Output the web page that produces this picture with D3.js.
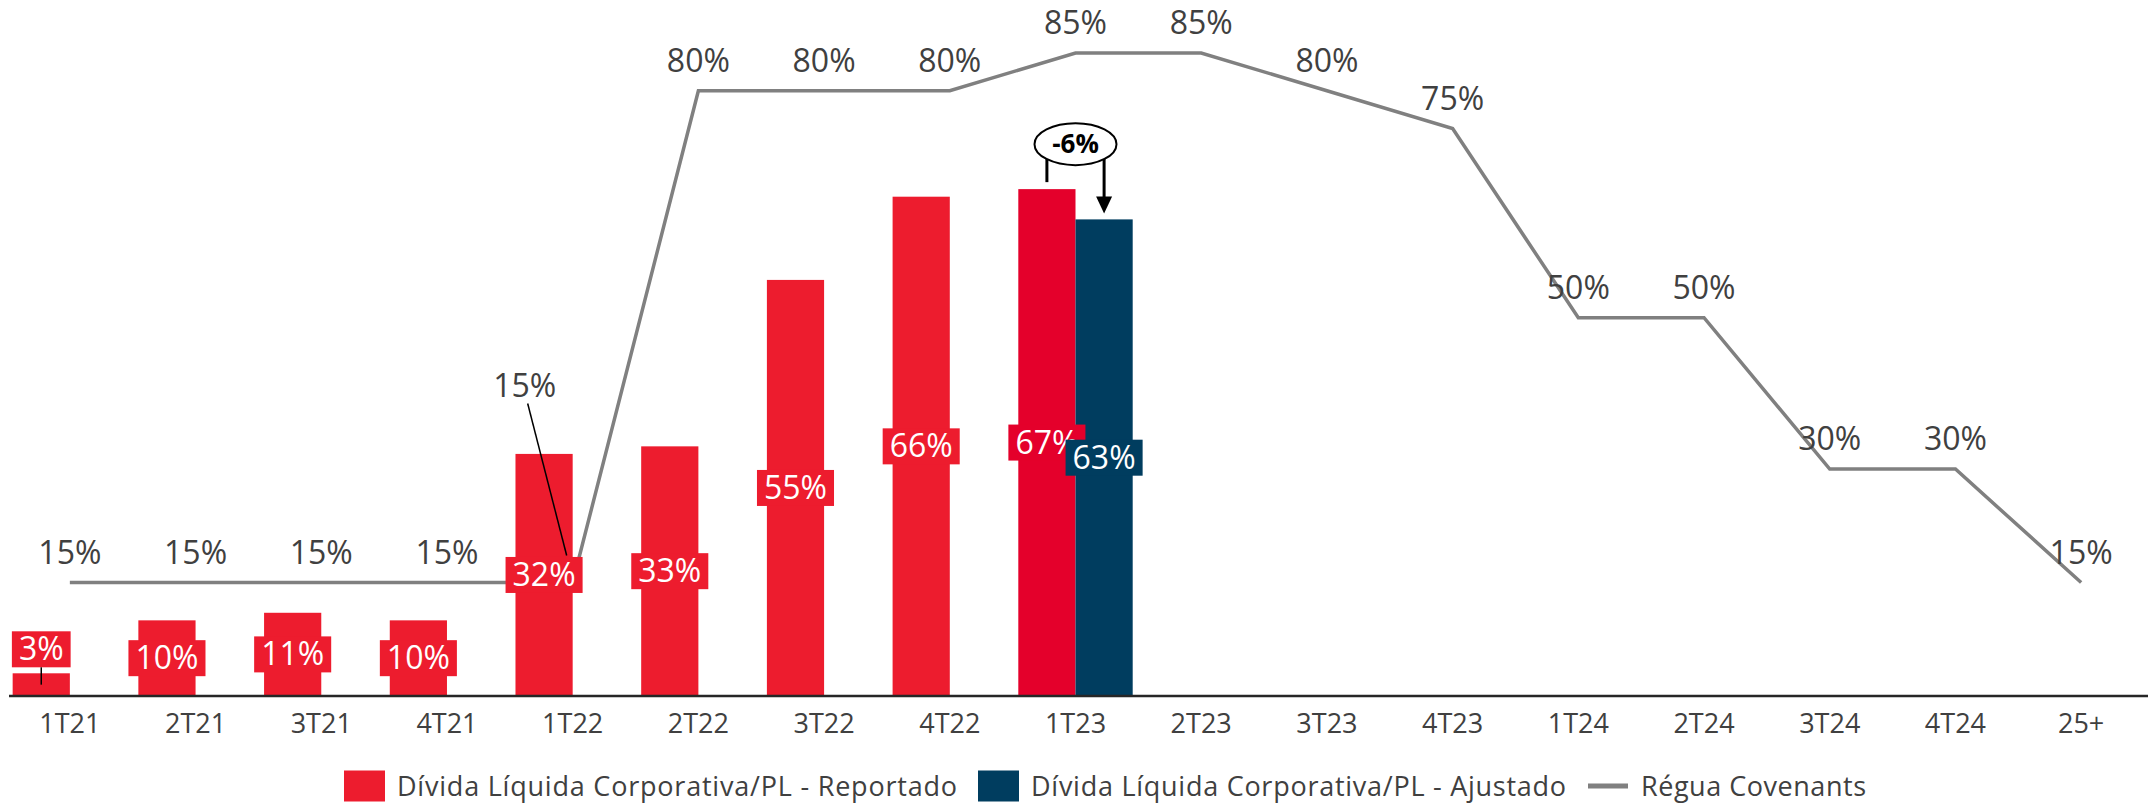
<!DOCTYPE html>
<html>
<head>
<meta charset="utf-8">
<script src="https://cdn.jsdelivr.net/npm/d3@7"></script>
<style>
  body { margin: 0; background: #fff; }
  text { font-family: "Open Sans", Lato, sans-serif; }
</style>
</head>
<body>
<script>
const width = 2148,
      height = 807;

// data
const categories = ['1T21', '2T21', '3T21', '4T21', '1T22', '2T22', '3T22', '4T22', '1T23',
                    '2T23', '3T23', '4T23', '1T24', '2T24', '3T24', '4T24', '25+'];
const reportadoCats = ['1T21', '2T21', '3T21', '4T21', '1T22', '2T22', '3T22', '4T22', '1T23'];
const reportado = [3, 10, 11, 10, 32, 33, 55, 66, 67];
const ajustadoCats = ['1T23'];
const ajustado = [63];
const regua = [15, 15, 15, 15, 15, 80, 80, 80, 85, 85, 80, 75, 50, 50, 30, 30, 15];
const variacao = '-6%';

const legendItems = ['Dívida Líquida Corporativa/PL - Reportado',
                     'Dívida Líquida Corporativa/PL - Ajustado',
                     'Régua Covenants'];

const red = '#ED1C2E', red2 = '#E4002B', blue = '#003D5F', grey = '#808080', txt = '#404040';

const svg = d3.select('body').append('svg')
    .attr('width', width)
    .attr('height', height);

const x = d3.scaleBand()
    .domain(categories)
    .range([7, 2144])
    .padding(0);

const y = d3.scaleLinear()
    .domain([0, 92])
    .range([696, 0]);

const barW = x.bandwidth() * 0.455;
const cx = d => x(d) + x.bandwidth() / 2;

// bars
const repData = reportadoCats.map((c, i) => ({cat: c, v: reportado[i]}));
const ajuData = ajustadoCats.map((c, i) => ({cat: c, v: ajustado[i]}));

const bars = svg.append('g');
bars.selectAll('rect.rep')
  .data(repData)
  .enter()
  .append('rect')
    .attr('class', 'rep')
    .attr('x', d => cx(d.cat) - barW)
    .attr('y', d => y(d.v))
    .attr('width', barW)
    .attr('height', d => y(0) - y(d.v))
    .attr('fill', d => d.cat == '1T23' ? red2 : red);

bars.selectAll('rect.aju')
  .data(ajuData)
  .enter()
  .append('rect')
    .attr('class', 'aju')
    .attr('x', d => cx(d.cat))
    .attr('y', d => y(d.v))
    .attr('width', barW)
    .attr('height', d => y(0) - y(d.v))
    .attr('fill', blue);

// x axis
const xAxis = svg.append('g')
    .attr('transform', 'translate(0,' + y(0) + ')')
    .call(d3.axisBottom(x).tickSize(0).tickPadding(18));
xAxis.select('.domain')
    .attr('d', 'M9,0H2148')
    .attr('stroke', '#262626')
    .attr('stroke-width', 2.5);
xAxis.selectAll('text')
    .attr('fill', txt)
    .style('font-size', '27px')
    .style('font-family', '"Open Sans", sans-serif');

// covenant line
const line = d3.line()
    .x((d, i) => cx(categories[i]))
    .y(d => y(d));

svg.append('path')
    .datum(regua)
    .attr('d', line)
    .attr('fill', 'none')
    .attr('stroke', grey)
    .attr('stroke-width', 3.5)
    .attr('stroke-linejoin', 'miter');

// line labels
const calloutIdx = 4, calloutDx = -48, calloutDy = -167;
const lineLabels = svg.append('g');
lineLabels.selectAll('text')
  .data(regua)
  .enter()
  .append('text')
    .attr('x', (d, i) => cx(categories[i]) + (i == calloutIdx ? calloutDx : 0))
    .attr('y', (d, i) => y(d) - 19 + (i == calloutIdx ? calloutDy : 0))
    .attr('text-anchor', 'middle')
    .attr('fill', txt)
    .style('font-size', '32px')
    .text(d => d + '%');

// callout leader
svg.append('line')
    .attr('x1', cx(categories[calloutIdx]) - 45)
    .attr('y1', y(regua[calloutIdx]) - 179)
    .attr('x2', cx(categories[calloutIdx]) - 6)
    .attr('y2', y(regua[calloutIdx]) - 27)
    .attr('stroke', '#000')
    .attr('stroke-width', 1.5);

// bar value labels (boxes)
function boxLabel(d, fill, barX) {
  const g = svg.append('g');
  const bh = y(0) - y(d.v);
  const boxH = 36;
  let cyv = y(d.v) + bh / 2;
  const above = bh < boxH;
  if (above) cyv = y(d.v) - 6 - boxH / 2;
  const t = g.append('text')
      .attr('x', barX)
      .attr('y', cyv + 11)
      .attr('text-anchor', 'middle')
      .attr('fill', '#fff')
      .style('font-size', '32px')
      .text(d.v + '%');
  const bb = t.node().getBBox();
  g.insert('rect', 'text')
      .attr('x', barX - bb.width / 2 - 7)
      .attr('y', cyv - boxH / 2)
      .attr('width', bb.width + 14)
      .attr('height', boxH)
      .attr('fill', fill);
  if (above) {
    g.append('line')
        .attr('x1', barX).attr('x2', barX)
        .attr('y1', cyv + boxH / 2)
        .attr('y2', y(d.v) + bh / 2)
        .attr('stroke', '#000')
        .attr('stroke-width', 1.5);
  }
}
repData.forEach(d => boxLabel(d, d.cat == '1T23' ? red2 : red, cx(d.cat) - barW / 2));
ajuData.forEach(d => boxLabel(d, blue, cx(d.cat) + barW / 2));

// variation annotation
const aCat = ajustadoCats[0];
const ri = reportadoCats.indexOf(aCat);
const ex = cx(aCat), ey = y(reportado[ri]) - 45;
const leftX = cx(aCat) - barW / 2, rightX = cx(aCat) + barW / 2;
const ann = svg.append('g');
ann.append('line')
    .attr('x1', leftX).attr('x2', leftX)
    .attr('y1', ey + 14).attr('y2', y(reportado[ri]) - 7)
    .attr('stroke', '#000').attr('stroke-width', 3);
ann.append('line')
    .attr('x1', rightX).attr('x2', rightX)
    .attr('y1', ey + 14).attr('y2', y(ajustado[0]) - 22)
    .attr('stroke', '#000').attr('stroke-width', 3);
ann.append('path')
    .attr('d', 'M' + (rightX - 8) + ',' + (y(ajustado[0]) - 23) + 'L' + (rightX + 8) + ',' + (y(ajustado[0]) - 23) +
               'L' + rightX + ',' + (y(ajustado[0]) - 6) + 'Z')
    .attr('fill', '#000');
ann.append('ellipse')
    .attr('cx', ex).attr('cy', ey)
    .attr('rx', 41).attr('ry', 21)
    .attr('fill', '#fff')
    .attr('stroke', '#000')
    .attr('stroke-width', 2);
ann.append('text')
    .attr('x', ex).attr('y', ey + 9)
    .attr('text-anchor', 'middle')
    .attr('fill', '#000')
    .style('font-size', '26px')
    .style('font-weight', 'bold')
    .text(variacao);

// legend
const legend = svg.append('g').attr('transform', 'translate(0,786)');
const lg = [
  {x: 344, type: 'rect', color: red, w: 560},
  {x: 978, type: 'rect', color: blue, w: 535},
  {x: 1588, type: 'line', color: grey, w: 225}
];
lg.forEach((l, i) => {
  if (l.type == 'rect') {
    legend.append('rect')
        .attr('x', l.x).attr('y', -15.5)
        .attr('width', 41).attr('height', 31)
        .attr('fill', l.color);
  } else {
    legend.append('line')
        .attr('x1', l.x).attr('x2', l.x + 40)
        .attr('y1', 0).attr('y2', 0)
        .attr('stroke', l.color).attr('stroke-width', 5);
  }
  legend.append('text')
      .attr('x', l.x + 53)
      .attr('y', 10)
      .attr('fill', txt)
      .attr('textLength', l.w)
      .attr('lengthAdjust', 'spacing')
      .style('font-size', '27px')
      .text(legendItems[i]);
});
</script>
</body>
</html>
